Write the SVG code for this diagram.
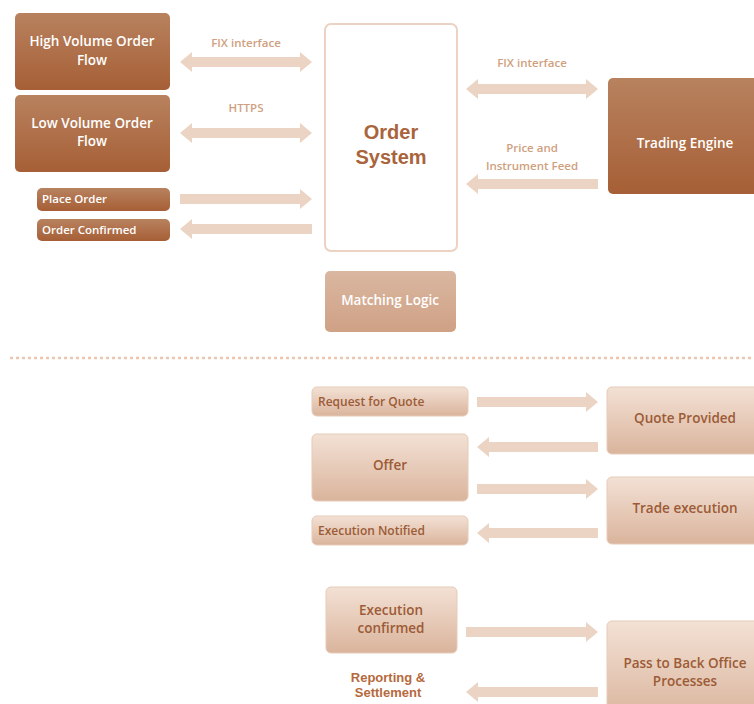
<svg xmlns="http://www.w3.org/2000/svg" width="754" height="704" viewBox="0 0 754 704">
  <defs>
    <linearGradient id="gDark" x1="0" y1="0" x2="0" y2="1">
      <stop offset="0" stop-color="#b8825f"/>
      <stop offset="1" stop-color="#a65f36"/>
    </linearGradient>
    <linearGradient id="gLight" x1="0" y1="0" x2="0" y2="1">
      <stop offset="0" stop-color="#f3e1d5"/>
      <stop offset="1" stop-color="#dab49c"/>
    </linearGradient>
    <linearGradient id="gMid" x1="0" y1="0" x2="0" y2="1">
      <stop offset="0" stop-color="#dab7a1"/>
      <stop offset="1" stop-color="#cfa185"/>
    </linearGradient>
    <style>
      text { font-family: "Open Sans", "DejaVu Sans", sans-serif; font-weight: 600; }
      .dark { fill: url(#gDark); }
      .light { fill: url(#gLight); stroke: #e6cbb9; stroke-width: 1; }
      .mid { fill: url(#gMid); }
      .wt { fill: #ffffff; font-size: 13.5px; text-anchor: middle; }
      .wts { fill: #ffffff; font-size: 11.5px; }
      .bt { fill: #9c5b36; font-size: 13.5px; text-anchor: middle; }
      .bts { fill: #9c5b36; font-size: 12px; }
      .lbl { fill: #cf9f80; font-size: 11.5px; text-anchor: middle; }
      .rep { fill: #b5693d; font-family: "Liberation Sans", Arial, sans-serif; font-size: 13px; font-weight: 700; text-anchor: middle; }
      .arrow { fill: #ecd4c4; }
    </style>
  </defs>

  <g id="connectors">
    <polygon class="arrow" points="180,62 192,52 192,57 300,57 300,52 312,62 300,72 300,67 192,67 192,72"/>
    <polygon class="arrow" points="180,133 192,123 192,128 300,128 300,123 312,133 300,143 300,138 192,138 192,143"/>
    <polygon class="arrow" points="180,194 300,194 300,189 312,199 300,209 300,204 180,204"/>
    <polygon class="arrow" points="180,229 192,219 192,224 312,224 312,234 192,234 192,239"/>
    <polygon class="arrow" points="466,89 478,79 478,84 586,84 586,79 598,89 586,99 586,94 478,94 478,99"/>
    <polygon class="arrow" points="466,184 478,174 478,179 598,179 598,189 478,189 478,194"/>
    <polygon class="arrow" points="477,397 586,397 586,392 598,402 586,412 586,407 477,407"/>
    <polygon class="arrow" points="477,447 489,437 489,442 598,442 598,452 489,452 489,457"/>
    <polygon class="arrow" points="477,484 586,484 586,479 598,489 586,499 586,494 477,494"/>
    <polygon class="arrow" points="477,533 489,523 489,528 598,528 598,538 489,538 489,543"/>
    <polygon class="arrow" points="466,627 586,627 586,622 598,632 586,642 586,637 466,637"/>
    <polygon class="arrow" points="466,692 478,682 478,687 598,687 598,697 478,697 478,702"/>
    <line x1="10" y1="358" x2="754" y2="358" stroke="#ecc6ae" stroke-width="2.5" stroke-dasharray="3,3"/>
  </g>

  <g id="conn-labels">
    <text class="lbl" x="246" y="47">FIX interface</text>
    <text class="lbl" x="246" y="112">HTTPS</text>
    <text class="lbl" x="532" y="67">FIX interface</text>
    <text class="lbl" x="532" y="152">Price and</text>
    <text class="lbl" x="532" y="170">Instrument Feed</text>
  </g>

  <g id="high-volume">
    <rect class="dark" x="15" y="13" width="155" height="77" rx="5"/>
    <text class="wt" x="92" y="46">High Volume Order</text>
    <text class="wt" x="92" y="65">Flow</text>
  </g>
  <g id="low-volume">
    <rect class="dark" x="15" y="95" width="155" height="77" rx="5"/>
    <text class="wt" x="92" y="128">Low Volume Order</text>
    <text class="wt" x="92" y="146">Flow</text>
  </g>
  <g id="place-order">
    <rect class="dark" x="37" y="188" width="133" height="23" rx="5"/>
    <text class="wts" x="42" y="203">Place Order</text>
  </g>
  <g id="order-confirmed">
    <rect class="dark" x="37" y="219" width="133" height="22" rx="5"/>
    <text class="wts" x="42" y="234">Order Confirmed</text>
  </g>

  <g id="order-system">
    <rect x="325" y="24" width="132" height="227" rx="6" fill="#ffffff" stroke="#ecd2c2" stroke-width="2"/>
    <text x="391" y="139" text-anchor="middle" style="font-family:'Liberation Sans',Arial,sans-serif;font-weight:700;font-size:20px;fill:#a9643c">Order</text>
    <text x="391" y="164" text-anchor="middle" style="font-family:'Liberation Sans',Arial,sans-serif;font-weight:700;font-size:20px;fill:#a9643c">System</text>
  </g>
  <g id="matching-logic">
    <rect class="mid" x="325" y="271" width="131" height="61" rx="5"/>
    <text class="wt" x="390" y="305">Matching Logic</text>
  </g>
  <g id="trading-engine">
    <rect class="dark" x="608" y="78" width="160" height="116" rx="5"/>
    <text class="wt" x="685" y="148">Trading Engine</text>
  </g>

  <g id="request-for-quote">
    <rect class="light" x="312" y="387" width="156" height="29" rx="5"/>
    <text class="bts" x="318" y="406">Request for Quote</text>
  </g>
  <g id="offer">
    <rect class="light" x="312" y="434" width="156" height="67" rx="5"/>
    <text class="bt" x="390" y="470">Offer</text>
  </g>
  <g id="execution-notified">
    <rect class="light" x="312" y="516" width="156" height="29" rx="5"/>
    <text class="bts" x="318" y="535">Execution Notified</text>
  </g>
  <g id="quote-provided">
    <rect class="light" x="607" y="387" width="160" height="67" rx="5"/>
    <text class="bt" x="685" y="423">Quote Provided</text>
  </g>
  <g id="trade-execution">
    <rect class="light" x="607" y="477" width="160" height="67" rx="5"/>
    <text class="bt" x="685" y="513">Trade execution</text>
  </g>
  <g id="execution-confirmed">
    <rect class="light" x="326" y="587" width="131" height="66" rx="5"/>
    <text class="bt" x="391" y="615">Execution</text>
    <text class="bt" x="391" y="633">confirmed</text>
  </g>
  <g id="back-office">
    <rect class="light" x="607" y="621" width="160" height="100" rx="5"/>
    <text class="bt" x="685" y="668">Pass to Back Office</text>
    <text class="bt" x="685" y="686">Processes</text>
  </g>
  <g id="reporting">
    <text class="rep" x="388" y="682">Reporting &amp;</text>
    <text class="rep" x="388" y="697">Settlement</text>
  </g>
</svg>
